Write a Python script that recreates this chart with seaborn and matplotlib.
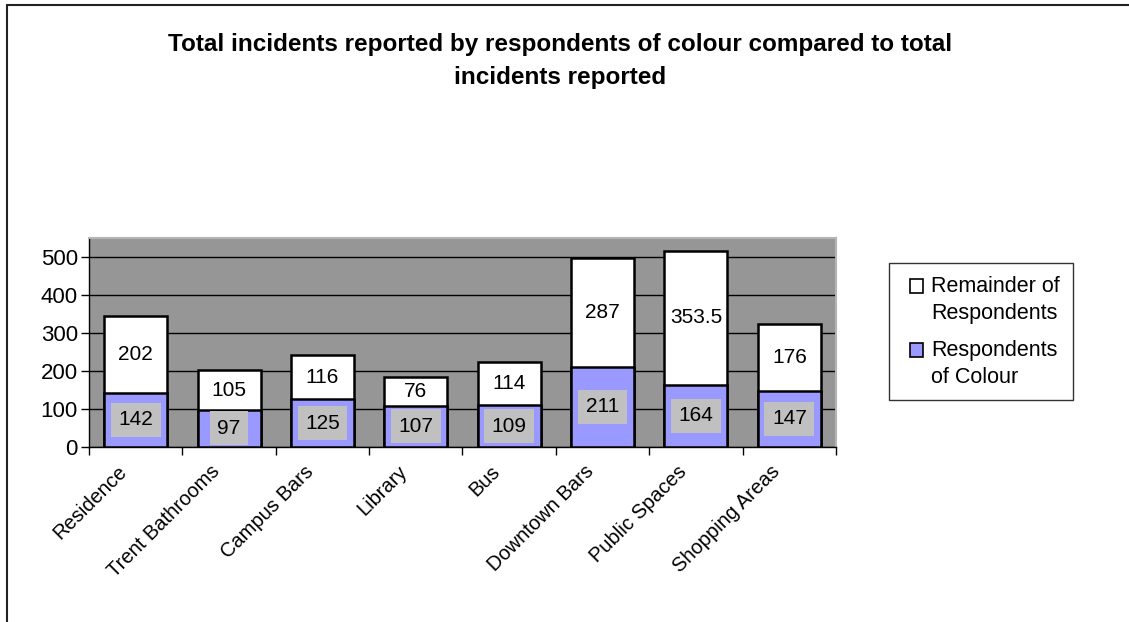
import matplotlib
matplotlib.use("Agg")
import matplotlib.pyplot as plt
from matplotlib.lines import Line2D
from matplotlib.patches import Patch
import seaborn as sns
import pandas as pd

categories = ["Residence", "Trent Bathrooms", "Campus Bars", "Library", "Bus",
              "Downtown Bars", "Public Spaces", "Shopping Areas"]
colour_counts = [142, 97, 125, 107, 109, 211, 164, 147]
remainder_counts = [202, 105, 116, 76, 114, 287, 353.5, 176]
yticks = [0, 100, 200, 300, 400, 500]

sns.set_theme(style="white")
plt.rcParams["font.family"] = ["Liberation Sans", "DejaVu Sans"]
plt.rcParams["text.color"] = "black"
plt.rcParams["xtick.color"] = "black"
plt.rcParams["ytick.color"] = "black"
plt.rcParams["axes.labelcolor"] = "black"

df = pd.DataFrame({
    "place": categories,
    "colour": colour_counts,
    "remainder": remainder_counts,
})
df["total"] = df["colour"] + df["remainder"]

fig = plt.figure(figsize=(11.29, 6.22), dpi=100)
ax = fig.add_axes([0.0788, 0.2818, 0.6617, 0.3356])
ax.set_facecolor("#969696")

bar_w = 0.675
sns.barplot(data=df, x="place", y="total", color="white", width=bar_w,
            edgecolor="black", linewidth=1.8, saturation=1, ax=ax, zorder=3)
sns.barplot(data=df, x="place", y="colour", color="#9999FF", width=bar_w,
            edgecolor="black", linewidth=1.8, saturation=1, ax=ax, zorder=3)

for i, row in df.iterrows():
    ax.text(i, row["colour"] / 2, f"{row['colour']:g}", ha="center", va="center",
            fontsize=15, color="black", zorder=5, clip_on=False,
            bbox=dict(boxstyle="square,pad=0.36", fc="#C0C0C0", ec="none"))
    ax.text(i, row["colour"] + row["remainder"] / 2, f"{row['remainder']:g}",
            ha="center", va="center", fontsize=15, color="black", zorder=5)

ax.set_ylim(0, 551)
ax.set_xlim(-0.5, len(categories) - 0.5)
ax.set_yticks(yticks)
ax.set_yticklabels([str(v) for v in yticks], fontsize=16)
ax.yaxis.grid(True, color="black", linewidth=1)
ax.set_axisbelow(True)
ax.set_xlabel("")
ax.set_ylabel("")

# category ticks sit on the boundaries between bars
ax.set_xticks([i - 0.5 for i in range(len(categories) + 1)])
ax.set_xticklabels([])
ax.tick_params(axis="x", direction="out", length=6, width=1,
               color="black", bottom=True)
ax.tick_params(axis="y", direction="out", length=6, width=1, color="black",
               left=True, pad=2)
for i, name in enumerate(categories):
    ax.text(i - 0.2, -40, name, rotation=45, ha="right", va="top",
            rotation_mode="anchor", fontsize=14.5, clip_on=False)

for side in ("left", "bottom"):
    ax.spines[side].set_color("black")
    ax.spines[side].set_linewidth(1)
for side in ("top", "right"):
    ax.spines[side].set_color("#B4B4B4")
    ax.spines[side].set_linewidth(1.5)

handles = [
    Patch(facecolor="white", edgecolor="black", linewidth=1.2,
          label="Remainder of\nRespondents"),
    Patch(facecolor="#9999FF", edgecolor="black", linewidth=1.2,
          label="Respondents\nof Colour"),
]
leg = fig.legend(handles=handles, loc="upper left",
                 bbox_to_anchor=(889 / 1129, 1 - 263 / 622),
                 fontsize=15.5, frameon=True, fancybox=False,
                 handlelength=0.6, handleheight=0.6, handletextpad=0.75,
                 labelspacing=0.75, borderpad=0.6, borderaxespad=0)
leg.get_frame().set_edgecolor("black")
leg.get_frame().set_linewidth(1)
for t in leg.get_texts():
    t.set_linespacing(1.36)
for h in leg.legend_handles:
    h.set_y(h.get_y() + 10)
    h.set_x(h.get_x() + 6)

fig.text(560 / 1129, 1 - 61 / 622,
         "Total incidents reported by respondents of colour compared to total\nincidents reported",
         ha="center", va="center", fontsize=17.5, fontweight="bold", linespacing=1.55)

# outer chart frame
fig.add_artist(Line2D([7 / 1129, 1], [1 - 5 / 622, 1 - 5 / 622],
                      transform=fig.transFigure, color="#222222", linewidth=1.5))
fig.add_artist(Line2D([7 / 1129, 7 / 1129], [0, 1 - 5 / 622],
                      transform=fig.transFigure, color="#222222", linewidth=1.5))

fig.savefig("out.png", dpi=100, facecolor="white")
